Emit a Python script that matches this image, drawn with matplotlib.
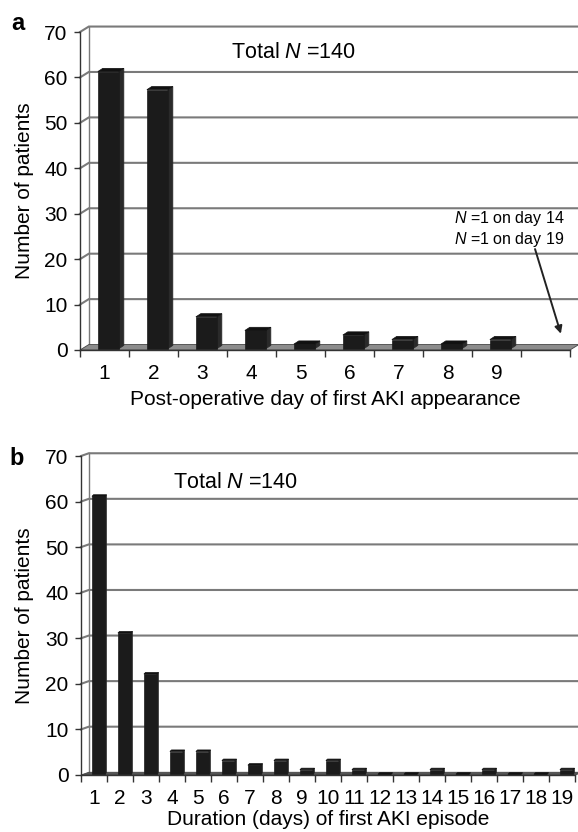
import matplotlib
matplotlib.use("Agg")
import matplotlib.pyplot as plt
from matplotlib.patches import Polygon
import numpy as np

plt.rcParams["font.family"] = ["Liberation Sans", "DejaVu Sans"]
plt.rcParams["mathtext.fontset"] = "custom"
plt.rcParams["mathtext.rm"] = "Liberation Sans"
plt.rcParams["mathtext.it"] = "Liberation Sans:italic"

# panel a: post-operative day of first AKI appearance
onset_labels = ["1", "2", "3", "4", "5", "6", "7", "8", "9", ""]
onset_counts = [61, 57, 7, 4, 1, 3, 2, 1, 2]

# panel b: duration (days) of first AKI episode
duration_labels = [str(d) for d in range(1, 20)]
duration_counts = [61, 31, 22, 5, 5, 3, 2, 3, 1, 3, 1, 0, 0, 1, 0, 1, 0, 0, 1]

W, H = 578, 832
GRID = "#7a7a7a"
FS = 15


def px(x0, y0, x1, y1):
    # pixel box (top-left origin) -> figure fraction rect
    return [x0 / W, 1 - y1 / H, (x1 - x0) / W, (y1 - y0) / H]


def draw_panel(ax, labels, counts, depth, bar_w, bar_shift, bar_depth, floor_color, floor_h):
    n = len(labels)
    cats = np.arange(1, n + 1)
    dx, dy = depth
    ax.set_xlim(0.5, n + 0.5)
    ax.set_ylim(0, 70)
    ax.patch.set_visible(False)

    # back wall: gridlines with a short diagonal into the left wall
    xr = n + 0.5 + dx
    for y in range(10, 71, 10):
        ax.plot([0.5, 0.5 + dx, xr], [y, y + dy, y + dy], color=GRID, lw=1.5,
                clip_on=False, zorder=1, solid_joinstyle="miter")
    ax.plot([0.5 + dx, 0.5 + dx], [dy, 70 + dy], color=GRID, lw=1.0, clip_on=False, zorder=1)
    ax.plot([xr, xr], [dy, 70 + dy], color="#bbbbbb", lw=1.0, clip_on=False, zorder=1)

    # floor
    ax.add_patch(Polygon([(0.5, 0), (n + 0.5, 0), (n + 0.5 + dx, floor_h), (0.5 + dx, floor_h)],
                         closed=True, facecolor=floor_color, edgecolor="#444444", lw=0.6,
                         clip_on=False, zorder=2))

    # 3d-ish columns
    bdx, bdy = bar_depth
    base = floor_h * 0.25
    for x, v in zip(cats, counts):
        x0 = x + bar_shift - bar_w / 2
        x1 = x0 + bar_w
        y0, y1 = base, v + base
        ax.add_patch(Polygon([(x0, y0), (x1, y0), (x1, y1), (x0, y1)], closed=True,
                             facecolor="#1b1b1b", edgecolor="#1b1b1b", lw=0.5, zorder=4))
        ax.add_patch(Polygon([(x1, y0), (x1 + bdx, y0 + bdy), (x1 + bdx, y1 + bdy), (x1, y1)],
                             closed=True, facecolor="#2a2a2a", edgecolor="#2a2a2a", lw=0.5, zorder=3))
        ax.add_patch(Polygon([(x0, y1), (x1, y1), (x1 + bdx, y1 + bdy), (x0 + bdx, y1 + bdy)],
                             closed=True, facecolor="#111111", edgecolor="#111111", lw=0.5, zorder=4))

    ax.set_yticks(range(0, 71, 10))
    ax.set_xticks(cats)
    ax.set_xticklabels(labels)
    ax.set_xticks(np.arange(0.5, n + 1), minor=True)
    ax.tick_params(axis="x", which="major", length=0, pad=10, labelsize=FS)
    ax.tick_params(axis="x", which="minor", length=5, width=1, color="#333333")
    ax.tick_params(axis="y", length=4, width=1, pad=5, labelsize=FS, color="#333333")
    for side in ("top", "right"):
        ax.spines[side].set_visible(False)
    for side in ("left", "bottom"):
        ax.spines[side].set_color("#333333")
        ax.spines[side].set_linewidth(1.0)
        ax.spines[side].set_zorder(5)


fig = plt.figure(figsize=(W / 100, H / 100), dpi=100)
fig.patch.set_facecolor("white")

ax_a = fig.add_axes(px(80, 32, 570, 350))
draw_panel(ax_a, onset_labels, onset_counts, depth=(0.18, 1.2), bar_w=0.43, bar_shift=0.08,
           bar_depth=(0.1, 0.7), floor_color="#8c8c8c", floor_h=1.2)
ax_a.text(4.85, 65.4, r"Total $N$ =140", fontsize=15.5, ha="center", va="center")
ax_a.text(10.38, 26.6, "$N$ =1 on day 14\n$N$ =1 on day 19", fontsize=11.5, ha="right",
          va="center", linespacing=1.1)
ax_a.annotate("", xy=(10.33, 3.0), xytext=(9.77, 22.8),
              arrowprops=dict(arrowstyle="-|>", color="#222222", lw=1.4, mutation_scale=11),
              annotation_clip=False)
ax_a.set_xlabel("Post-operative day of first AKI appearance", fontsize=FS, labelpad=5)

ax_b = fig.add_axes(px(81, 456, 575, 775))
draw_panel(ax_b, duration_labels, duration_counts, depth=(0.3, 0.6), bar_w=0.5, bar_shift=0.17,
           bar_depth=(0.06, 0.35), floor_color="#555555", floor_h=0.6)
ax_b.text(6.45, 64.2, r"Total $N$ =140", fontsize=15.5, ha="center", va="center")
ax_b.set_xlabel("Duration (days) of first AKI episode", fontsize=FS, labelpad=1.5)

for cy in ((32 + 350) / 2, (456 + 775) / 2):
    fig.text(25 / W, 1 - cy / H, "Number of patients", rotation=90, fontsize=FS,
             ha="center", va="center")
fig.text(18 / W, 1 - 24 / H, "a", fontsize=17, fontweight="bold", ha="center", va="center")
fig.text(17 / W, 1 - 458 / H, "b", fontsize=17, fontweight="bold", ha="center", va="center")

fig.savefig("out.png", dpi=100)
